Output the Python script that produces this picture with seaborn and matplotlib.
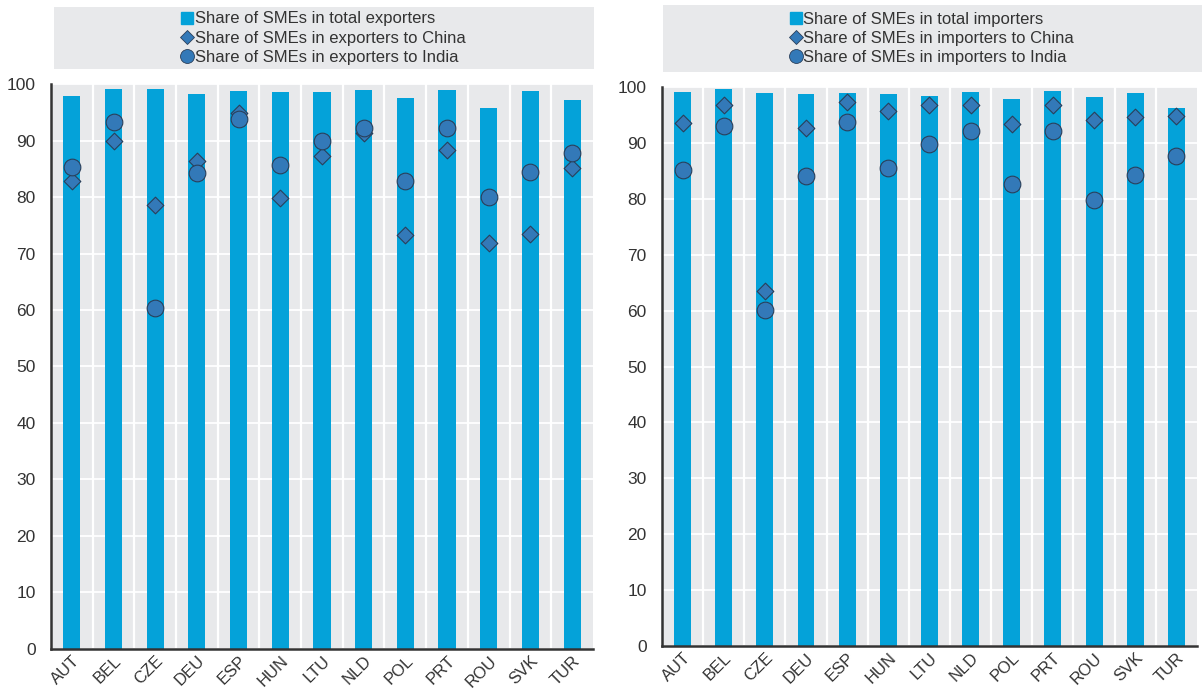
import matplotlib
matplotlib.use("Agg")
import matplotlib.pyplot as plt
import seaborn as sns
import pandas as pd
from matplotlib.lines import Line2D
from matplotlib.patches import Rectangle

countries = ["AUT", "BEL", "CZE", "DEU", "ESP", "HUN", "LTU", "NLD", "POL", "PRT", "ROU", "SVK", "TUR"]

exp_total = [97.9, 99.2, 99.1, 98.3, 98.8, 98.6, 98.5, 99.0, 97.6, 99.0, 95.8, 98.7, 97.1]
exp_china = [82.9, 89.9, 78.5, 86.4, 94.8, 79.9, 87.3, 91.3, 73.2, 88.4, 71.9, 73.5, 85.2]
exp_india = [85.3, 93.3, 60.4, 84.3, 93.8, 85.7, 89.9, 92.3, 82.9, 92.3, 80.0, 84.4, 87.8]

imp_total = [99.1, 99.6, 99.0, 98.8, 99.0, 98.7, 98.4, 99.2, 97.8, 99.3, 98.3, 99.0, 96.3]
imp_china = [93.5, 96.8, 63.6, 92.6, 97.4, 95.7, 96.7, 96.7, 93.3, 96.7, 94.1, 94.6, 94.8]
imp_india = [85.1, 93.1, 60.2, 84.1, 93.7, 85.6, 89.8, 92.1, 82.7, 92.2, 79.8, 84.2, 87.7]

labels_exp = ["Share of SMEs in total exporters", "Share of SMEs in exporters to China", "Share of SMEs in exporters to India"]
labels_imp = ["Share of SMEs in total importers", "Share of SMEs in importers to China", "Share of SMEs in importers to India"]
yticks = [0, 10, 20, 30, 40, 50, 60, 70, 80, 90, 100]

BAR = "#04a2d9"
MARK = "#3379b8"
EDGE = "#2a3f5a"
BG = "#e8e9eb"
AXC = "#333333"

sns.set_theme(style="white")
plt.rcParams["font.family"] = ["Liberation Sans Narrow", "Liberation Sans", "DejaVu Sans"]

fig = plt.figure(figsize=(12.02, 6.88), dpi=100)

def panel(rect, legrect, total, china, india, labels):
    df = pd.DataFrame({"country": countries, "total": total, "china": china, "india": india})
    ax = fig.add_axes(rect)
    ax.set_facecolor(BG)
    sns.barplot(data=df, x="country", y="total", color=BAR, width=0.41, ax=ax,
                saturation=1, edgecolor="none", zorder=2)
    sns.stripplot(data=df, x="country", y="china", marker="D", size=8.5, color=MARK,
                  edgecolor=EDGE, linewidth=0.8, jitter=False, ax=ax, zorder=3)
    sns.stripplot(data=df, x="country", y="india", marker="o", size=12, color=MARK,
                  edgecolor=EDGE, linewidth=0.8, jitter=False, ax=ax, zorder=4)
    ax.set_xlim(-0.5, len(countries) - 0.5)
    ax.set_ylim(0, 100)
    ax.set_yticks(yticks)
    ax.set_yticklabels([str(v) for v in yticks], fontsize=12.5, color=AXC)
    ax.set_xticks(range(len(countries)))
    ax.set_xticklabels(countries, rotation=45, ha="right", rotation_mode="anchor",
                       fontsize=12, color=AXC)
    ax.set_xticks([i + 0.5 for i in range(len(countries) - 1)], minor=True)
    ax.tick_params(axis="x", which="major", length=0, pad=3)
    ax.tick_params(axis="x", which="minor", length=4, width=1.2, color=AXC, direction="out")
    ax.tick_params(axis="y", which="major", length=5, width=1.2, color=AXC, direction="out", pad=6)
    ax.grid(axis="y", color="white", linewidth=1.3, zorder=0)
    ax.grid(axis="x", which="minor", color="white", linewidth=1.6, zorder=0)
    ax.grid(axis="x", which="major", visible=False)
    ax.set_axisbelow(True)
    ax.set_xlabel("")
    ax.set_ylabel("")
    for s in ["top", "right"]:
        ax.spines[s].set_visible(False)
    for s in ["left", "bottom"]:
        ax.spines[s].set_color(AXC)
        ax.spines[s].set_linewidth(1.8)
    # legend box
    fig.patches.append(Rectangle((legrect[0], legrect[1]), legrect[2], legrect[3],
                                 transform=fig.transFigure, facecolor=BG, edgecolor="none", zorder=0))
    handles = [
        Line2D([], [], linestyle="none", marker="s", markersize=9, color=BAR, markeredgecolor=BAR),
        Line2D([], [], linestyle="none", marker="D", markersize=7, color=MARK, markeredgecolor=EDGE, markeredgewidth=0.6),
        Line2D([], [], linestyle="none", marker="o", markersize=10, color=MARK, markeredgecolor=EDGE, markeredgewidth=0.6),
    ]
    fig.legend(handles, labels, loc="center",
               bbox_to_anchor=(legrect[0] + legrect[2] / 2, legrect[1] + legrect[3] / 2),
               frameon=False, fontsize=12, handlelength=0.6, handletextpad=0.15,
               labelspacing=0.25, borderpad=0.0, labelcolor=AXC)
    return ax

panel([0.0424, 0.0567, 0.4509, 0.8212], [0.0449, 0.8997, 0.449, 0.0901],
      exp_total, exp_china, exp_india, labels_exp)
panel([0.5507, 0.0610, 0.4451, 0.8125], [0.5516, 0.8953, 0.4484, 0.0974],
      imp_total, imp_china, imp_india, labels_imp)

fig.savefig("out.png", dpi=100)
